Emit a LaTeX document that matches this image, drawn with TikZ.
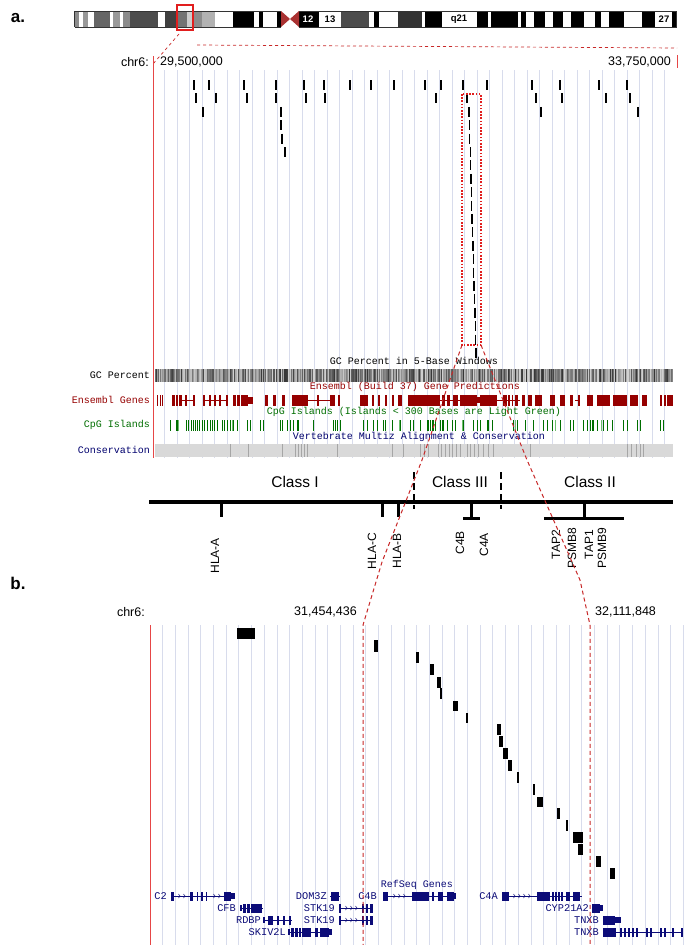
\documentclass[tikz,border=0pt]{standalone}
\usepackage{fontspec}
\setmainfont{Liberation Sans}
\newfontfamily\ucsc{Liberation Mono}
\definecolor{gridc}{RGB}{216,220,236}
\definecolor{dashred}{RGB}{200,40,40}
\definecolor{chrred}{RGB}{230,70,70}
\definecolor{boxred}{RGB}{225,30,30}
\definecolor{ensc}{RGB}{150,0,0}
\definecolor{cpgc}{RGB}{0,110,0}
\definecolor{cpgl}{RGB}{110,190,110}
\definecolor{consc}{RGB}{0,0,110}
\definecolor{refc}{RGB}{12,12,120}
\definecolor{cenc}{RGB}{170,50,50}
\begin{document}
\begin{tikzpicture}[x=1pt,y=-1pt,
  grid/.style={draw=gridc, line width=0.9pt},
  tick/.style={draw=black, line width=1.3pt},
  reddash/.style={draw=dashred, line width=1pt, dash pattern=on 4pt off 3pt},
  lbl/.style={font=\fontsize{12.5}{13}\selectfont, inner sep=0pt},
  ucsctxt/.style={font=\ucsc\fontsize{10}{11}\selectfont, inner sep=0pt},
  genelbl/.style={font=\fontsize{12}{13}\selectfont, rotate=90, anchor=east, inner sep=0pt},
  classlbl/.style={font=\fontsize{15.5}{16}\selectfont, inner sep=0pt},
  bandlbl/.style={font=\bfseries\fontsize{9.5}{10}\selectfont, inner sep=0pt},
  panel/.style={font=\bfseries\fontsize{17}{17}\selectfont, inner sep=0pt},
  mhc/.style={draw=black, line width=3pt},
  reflbl/.style={font=\ucsc\fontsize{10.3}{11}\selectfont, inner sep=0pt, text=refc, anchor=east},
  ]
\useasboundingbox (0,0) rectangle (689,945);
\fill[white] (0,0) rectangle (689,945);

% ---------------- panel labels
\node[panel] (la) at (18,18) {a.};
\node[panel] (lb) at (18,583) {b.};

% ---------------- chromosome ideogram
\begin{scope}[xscale=0.4394]
\foreach \a/\b/\c in {170/180/black!45, 180/190/white, 190/200/black!40, 200/214/white, 214/250/black!60, 250/258/white, 258/272/black!40, 272/280/white, 280/295/black!45, 295/360/black!70, 360/375/white, 375/405/black!75, 405/425/black!55, 425/440/black!20, 440/460/black!45, 460/490/black!30, 490/530/white, 530/578/black, 578/590/white, 590/598/black, 598/630/white, 630/640/black,
680/725/black, 725/775/white, 775/840/black!70, 840/850/white, 850/862/black, 862/905/white, 905/960/black!80, 960/967/white, 967/1005/black, 1005/1085/white, 1085/1110/black, 1110/1117/white, 1117/1178/black, 1178/1185/white, 1185/1198/black, 1198/1215/white, 1215/1240/black, 1240/1258/white, 1258/1282/black, 1282/1300/white, 1300/1330/black, 1330/1355/white, 1355/1368/black, 1368/1385/white, 1385/1420/black, 1420/1460/white, 1460/1490/black, 1490/1530/white, 1530/1540/black}
  {\fill[\c] (\a,11) rectangle (\b,27);}
\draw[black!80, line width=0.7pt] (170,11) -- (640,11) (170,27) -- (640,27) (170,11) -- (170,27);
\draw[black!80, line width=0.7pt] (680,11) -- (1540,11) (680,27) -- (1540,27) (1540,11) -- (1540,27);
\end{scope}
\fill[cenc] (281,11) -- (290,19) -- (281,27) -- cycle;
\fill[cenc] (299,11) -- (290,19) -- (299,27) -- cycle;
\node[bandlbl, text=white] (b12) at (308,19) {12};
\node[bandlbl] (b13) at (330,19) {13};
\node[bandlbl] (bq21) at (459,19) {q21};
\node[bandlbl] (b27) at (664,19) {27};
\draw[boxred, line width=2pt] (177,5) rectangle (193,30);
\draw[dashred, line width=0.7pt, dash pattern=on 3pt off 3pt] (179,34) -- (153,64);
\draw[dashred, line width=0.7pt, dash pattern=on 3pt off 3pt] (197,45) -- (677,48);

% ---------------- part a header
\node[lbl, anchor=east] (chra) at (149,62) {chr6:};
\draw[chrred, line width=1pt] (153,56) -- (153,68);
\node[lbl, anchor=west] (pa1) at (160,62) {29,500,000};
\node[lbl, anchor=east] (pa2) at (671,62) {33,750,000};
\draw[chrred, line width=1pt] (677,55) -- (677,68);

% ---------------- grid part a
\foreach \k in {1,...,41} \draw[grid] ({152+12.5*\k},70) -- ({152+12.5*\k},458);
\draw[chrred, line width=0.6pt] (153,68) -- (153,458);

% ---------------- ticks part a
\foreach \x in {194,209,244,276,304,324,350,371,394,425,441,463,487,532,560,599,627}
  \draw[tick] (\x,80) -- ++(0,10);
\foreach \x in {196,216,247,276,306,325,436,467,536,562,606,630}
  \draw[tick] (\x,93.4) -- ++(0,10);
\foreach \x in {203,281,469,541,638}
  \draw[tick] (\x,106.8) -- ++(0,10);
\foreach \x/\r in {281/4,282/5,285/6}
  \draw[tick] (\x,{80+13.4*(\r-1)}) -- ++(0,10);
\foreach \r in {4,...,21}
  \draw[tick] ({469+(\r-3)*0.39},{80+13.4*(\r-1)}) -- ++(0,10);
\draw[boxred, line width=1.6pt, dash pattern=on 1.6pt off 1.6pt] (462,94) rectangle (481,345);

% ---------------- GC percent track
\node[ucsctxt] (gct) at (414,361) {GC Percent in 5-Base Windows};
\node[ucsctxt, anchor=east] (gcl) at (150,375) {GC Percent};
\pgfmathsetseed{11}
\foreach \i in {0,...,517}{
  \pgfmathsetmacro\g{int(18+62*rnd)}
  \fill[black!\g] ({155+\i},369) rectangle ++(1.05,13);
}

% ---------------- Ensembl track
\node[ucsctxt, text=ensc] (enst) at (415,387) {Ensembl (Build 37) Gene Predictions};
\node[ucsctxt, text=ensc, anchor=east] (ensl) at (150,400) {Ensembl Genes};
\foreach \a/\b in {182/195, 203/228, 308/330, 440/460, 497/520, 575/580}
  \draw[ensc, line width=1pt] (\a,400) -- (\b,400);
\foreach \a/\b in {157/158, 159.5/160.5, 162/163, 172/175, 176/178, 179/182, 185/187, 193/194.5,
  203/205, 209/210.5, 214/216, 219/221, 226/228, 233/236, 237/240, 241/248, 265/268, 273/276, 282/285,
  292/308, 317/318.5, 330/335, 338/339.5, 360/368, 372/374, 378/380, 385/387, 392/394, 398/402,
  408/440, 442/445, 447/450, 453/458, 460/477, 480/497, 503/507, 508/510, 512/513, 515/518, 522/525,
  528/532, 535/542, 550/555, 560/565, 570/573, 578/580, 587/593, 597/610, 613/627, 630/638, 642/647,
  660/662, 664/665.5, 667/673}
  \fill[ensc] (\a,395) rectangle (\b,406);
\fill[ensc] (248,397) rectangle (253,404);
\fill[ensc] (476,397) rectangle (481,403);

% ---------------- CpG track
\node[ucsctxt, text=cpgc] (cpgt) at (414,412) {CpG Islands (Islands < 300 Bases are Light Green)};
\node[ucsctxt, text=cpgc, anchor=east] (cpgl) at (150,425) {CpG Islands};
\foreach \x in {170,176,177.5,186,188,191,193,195,197,199,202,204,207,210,212,214,217,222,224,227,230,233,237,247,250,260,263,280,282,287,290,293,297,298.5,313,333,335,337,340,363,367,373,377,383,385,392,400,410,413,420,427,428.5,430,432,433.5,435,440,442,443.5,447,452,455,463,473,477,480,487,488.5,492,513,517,525,533,543,547,552,560,570,573,583,587,590,592,593.5,597,603,607,612,623,627,637,640,660,663}
  \draw[cpgc, line width=1pt] (\x,420) -- (\x,431);
\foreach \x in {178.5,232,399,462,515,555,601}
  \draw[cpgl, line width=1pt] (\x,420) -- (\x,431);

% ---------------- Conservation track
\node[ucsctxt, text=consc] (cont) at (419,437) {Vertebrate Multiz Alignment \& Conservation};
\node[ucsctxt, text=consc, anchor=east] (conl) at (150,450) {Conservation};
\fill[black!15] (155,444) rectangle (673,457);
\foreach \x in {230,248,282,295,298,301,304,307,337,392,403,420,424,428,438,441,445,449,452,456,460,467,470,474,478,483,488,493,530,627,631,636,640,643}
  \draw[black!35, line width=0.8pt] (\x,444) -- (\x,457);

% ---------------- MHC class diagram
\node[classlbl] (c1) at (295,482) {Class I};
\node[classlbl] (c3) at (460,482) {Class III};
\node[classlbl] (c2) at (590,482) {Class II};
\draw[draw=black, line width=3.5pt] (149,502) -- (673,502);
\draw[draw=black, line width=2.4pt, dash pattern=on 7pt off 4pt] (414,472) -- (414,509);
\draw[draw=black, line width=2.4pt, dash pattern=on 7pt off 4pt] (501,472) -- (501,509);
\draw[mhc] (221,502) -- (221,517);
\draw[mhc] (382,502) -- (382,517);
\draw[mhc] (398,502) -- (398,517);
\draw[mhc] (471,502) -- (471,518);
\draw[mhc] (463,518) -- (480,518);
\draw[mhc] (584,502) -- (584,518);
\draw[mhc] (544,518) -- (624,518);
\node[genelbl] (ghlaa) at (215,538) {HLA-A};
\node[genelbl] (ghlac) at (372,533) {HLA-C};
\node[genelbl] (ghlab) at (397,533) {HLA-B};
\node[genelbl] (gc4b) at (460,531) {C4B};
\node[genelbl] (gc4a) at (484,533) {C4A};
\node[genelbl] (gtap2) at (556,530) {TAP2};
\node[genelbl] (gpsmb8) at (572,528) {PSMB8};
\node[genelbl] (gtap1) at (589,530) {TAP1};
\node[genelbl] (gpsmb9) at (602,528) {PSMB9};

% ---------------- part b header
\node[lbl, anchor=east] (chrb) at (145,612) {chr6:};
\node[lbl, anchor=east] (pb1) at (357,612) {31,454,436};
\node[lbl, anchor=west] (pb2) at (595,612) {32,111,848};

% ---------------- grid part b
\foreach \k in {1,...,42} \draw[grid] ({150+12.7*\k},625) -- ({150+12.7*\k},945);
\draw[chrred, line width=0.6pt] (150,625) -- (150,945);

% ---------------- blocks part b
\foreach \a/\b/\c/\d in {237/255/628/639, 374/378/640/652, 416/419/652/663, 430/434/664/675, 437/441/677/688,
  440/442/688/699, 453/458/701/711, 466/468/713/723, 497/501/724/735, 499/503/736/747, 503/508/748/759,
  508/512/760/771, 517/519/772/783, 533/535/784/795, 537/543/797/807, 557/560/808/819, 566/568/820/831,
  573/583/832/843, 578/583/844/855, 596/601/856/867, 610/615/868/879}
  \fill[black] (\a,\c) rectangle (\b,\d);

% ---------------- RefSeq genes
\node[ucsctxt, text=refc] (reft) at (417,885) {RefSeq Genes};
\foreach \a/\b/\y in {171/235/896, 240/263/908, 263/292/920, 288/332/932, 330/340/896, 339/373/908, 339/373/920,
  383/456/896, 502/582/896, 592/603/908, 603/621/920, 603/683/932}
  \draw[refc, line width=0.8pt] (\a,\y) -- (\b,\y);
\foreach \a/\b/\y in {171/173.5/896, 189.5/193/896, 196.5/198/896, 201/202.5/896, 205.5/207/896, 224/231/896,
  243/245.5/908, 246.5/249.5/908, 251/262/908,
  268/273/920, 277/278.5/920, 283/284.5/920, 289/290.5/920,
  291/294/932, 295/297.5/932, 299/301/932, 302/311/932, 315/317.5/932, 320/329/932,
  331/339/896,
  339/341/908, 362/364/908, 366/368/908, 370/373/908,
  339/341/920, 362/364/920, 366/368/920, 370/373/920,
  383/388/896, 412/429/896, 432/434/896, 438/443/896, 447/454/896,
  502/509/896, 537/550/896, 552/553.5/896, 555/556.5/896, 558/559.5/896, 561/562.5/896, 566/570/896, 573/580/896,
  592/600/908, 603/615/920,
  603/616/932, 620/621.5/932, 624/625.5/932, 628/629.5/932, 632/633.5/932, 636/637.5/932, 646/647.5/932,
  650/651.5/932, 660/661.5/932, 664/665.5/932, 672/673.5/932, 681/682.5/932}
  \fill[refc] (\a,\y-4.5) rectangle (\b,\y+4.5);
\foreach \a/\b/\y in {231/235/896, 240/242/908, 263/264.5/920, 288/289.5/932, 329/332/932, 454/456/896,
  600/603/908, 615/621/920}
  \fill[refc] (\a,\y-2.8) rectangle (\b,\y+2.8);
\foreach \x/\y in {180/896, 185/896, 215/896, 220/896, 347/908, 352/908, 357/908, 347/920, 352/920, 357/920,
  395/896, 400/896, 405/896, 515/896, 520/896, 525/896, 530/896}
  \draw[refc, line width=0.5pt] (\x-1.5,\y-2) -- (\x,\y) -- (\x-1.5,\y+2);
\node[reflbl] (rc2) at (167,896) {C2};
\node[reflbl] (rcfb) at (236,908) {CFB};
\node[reflbl] (rrdbp) at (261,920) {RDBP};
\node[reflbl] (rskiv) at (286,932) {SKIV2L};
\node[reflbl] (rdom) at (327,896) {DOM3Z};
\node[reflbl] (rstk1) at (335,908) {STK19};
\node[reflbl] (rstk2) at (335,920) {STK19};
\node[reflbl] (rc4b) at (377,896) {C4B};
\node[reflbl] (rc4a) at (498,896) {C4A};
\node[reflbl] (rcyp) at (589,908) {CYP21A2};
\node[reflbl] (rtnx1) at (599,920) {TNXB};
\node[reflbl] (rtnx2) at (599,932) {TNXB};

% ---------------- zoom lines
\draw[reddash] (462,345) -- (422,460) -- (382,562) -- (363,625) -- (363,945);
\draw[reddash] (481,345) -- (527,460) -- (580,580) -- (590,625) -- (590,945);
\end{tikzpicture}
\end{document}
